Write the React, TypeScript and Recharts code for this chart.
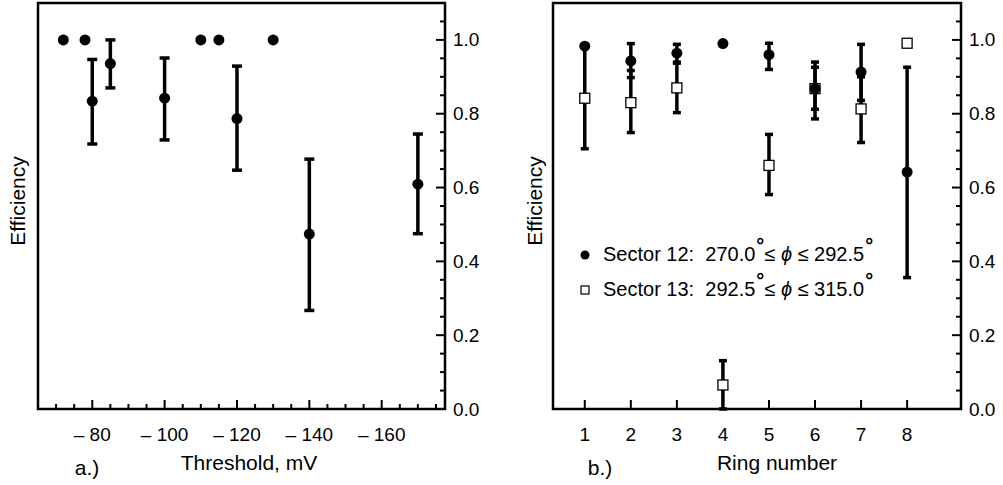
import React from 'react';
import {
  ScatterChart,
  Scatter,
  XAxis,
  YAxis,
  ErrorBar,
  ReferenceArea
} from 'recharts';

// panel a.) efficiency vs threshold
const thresholds = [-72, -78, -80, -85, -100, -110, -115, -120, -130, -140, -170];
const effA = [1.0, 1.0, 0.834, 0.936, 0.842, 1.0, 1.0, 0.787, 1.0, 0.474, 0.609];
const lowA = [null, null, 0.718, 0.87, 0.729, null, null, 0.647, null, 0.267, 0.475];
const highA = [null, null, 0.947, 1.0, 0.951, null, null, 0.929, null, 0.677, 0.745];

// panel b.) efficiency vs ring number
const rings = [1, 2, 3, 4, 5, 6, 7, 8];
const sector12 = [0.983, 0.943, 0.964, 0.99, 0.96, 0.868, 0.913, 0.642];
const s12Low = [null, 0.898, 0.94, null, 0.92, 0.786, 0.836, 0.356];
const s12High = [null, 0.99, 0.988, null, 0.991, 0.94, 0.988, 0.926];
const sector13 = [0.842, 0.83, 0.87, 0.065, 0.66, 0.868, 0.813, 0.991];
const s13Low = [0.705, 0.749, 0.803, 0, 0.581, 0.812, 0.722, null];
const s13High = [0.983, 0.917, 0.937, 0.131, 0.744, 0.926, 0.9, null];

// ticks
const thrTicks = [-70, -75, -80, -85, -90, -95, -100, -105, -110, -115, -120, -125, -130, -135, -140, -145, -150, -155, -160, -165, -170, -175];
const thrMajor = [-80, -100, -120, -140, -160];
const effTicks = [0, 0.05, 0.1, 0.15, 0.2, 0.25, 0.3, 0.35, 0.4, 0.45, 0.5, 0.55, 0.6, 0.65, 0.7, 0.75, 0.8, 0.85, 0.9, 0.95, 1.0, 1.05];
const effMajor = ['0.0', '0.2', '0.4', '0.6', '0.8', '1.0'];

const FONT = '"Liberation Sans", Arial, sans-serif';

const withErr = (xs: number[], ys: number[], lo: (number | null)[], hi: (number | null)[]) =>
  xs.map((x, i) => ({
    x,
    y: ys[i],
    err: lo[i] == null ? null : [ys[i] - (lo[i] as number), (hi[i] as number) - ys[i]]
  }));

const dataA = withErr(thresholds, effA, lowA, highA);
const data12 = withErr(rings, sector12, s12Low, s12High);
const data13 = withErr(rings, sector13, s13Low, s13High);

const BottomTick = (props: any) => {
  const { x, y, payload, isMajor, fmt } = props;
  const major = isMajor(payload.value);
  return (
    <g>
      <line x1={x} x2={x} y1={y} y2={y - (major ? 9 : 5)} stroke="#000" strokeWidth={2} />
      {major && (
        <text x={x} y={y + 25} textAnchor="middle" dominantBaseline="central" fontSize={19} fontFamily={FONT} fill="#000">
          {fmt(payload.value)}
        </text>
      )}
    </g>
  );
};

const RightTick = (props: any) => {
  const { x, y, payload } = props;
  const label = payload.value.toFixed(1);
  const major = effMajor.includes(label) && Math.abs(payload.value * 5 - Math.round(payload.value * 5)) < 1e-6;
  return (
    <g>
      <line x1={x} x2={x - (major ? 9 : 5)} y1={y} y2={y} stroke="#000" strokeWidth={2} />
      {major && (
        <text x={x + 8} y={y} textAnchor="start" dominantBaseline="central" fontSize={19} fontFamily={FONT} fill="#000">
          {label}
        </text>
      )}
    </g>
  );
};

const Dot = (p: any) => <circle cx={p.cx} cy={p.cy} r={5.5} fill="#000" />;
const Square = (p: any) => (
  <rect x={p.cx - 5} y={p.cy - 5} width={10} height={10} fill="#fff" stroke="#000" strokeWidth={1.3} />
);

const Deg = () => (
  <span style={{ position: 'relative', top: '-0.45em', fontSize: 20, fontWeight: 'bold', marginLeft: 1 }}>°</span>
);

const SectorLegend = () => (
  <div style={{ fontFamily: FONT, fontSize: 20, color: '#000', lineHeight: '35px' }}>
    <div style={{ display: 'flex', alignItems: 'center' }}>
      <svg width={25} height={14}>
        <circle cx={7} cy={7} r={4.5} fill="#000" />
      </svg>
      <span>
        Sector 12:&nbsp; 270.0<Deg />≤ <i>ϕ</i> ≤ 292.5<Deg />
      </span>
    </div>
    <div style={{ display: 'flex', alignItems: 'center' }}>
      <svg width={25} height={14}>
        <rect x={3} y={3} width={8} height={8} fill="#fff" stroke="#000" strokeWidth={1.2} />
      </svg>
      <span>
        Sector 13:&nbsp; 292.5<Deg />≤ <i>ϕ</i> ≤ 315.0<Deg />
      </span>
    </div>
  </div>
);

const textStyle: React.CSSProperties = {
  position: 'absolute',
  fontFamily: FONT,
  fontSize: 21,
  color: '#000',
  whiteSpace: 'nowrap',
  transform: 'translate(-50%, -50%)'
};

export default function App() {
  return (
    <div style={{ position: 'absolute', left: 0, top: 0, width: 1003, height: 485, background: '#fff' }}>
      <div style={{ position: 'absolute', left: 0, top: 0 }}>
        <ScatterChart width={500} height={485} margin={{ top: 3, right: 5, left: 38, bottom: 46 }}>
          <XAxis
            type="number"
            dataKey="x"
            domain={[-177.5, -65]}
            reversed
            allowDataOverflow
            ticks={thrTicks}
            interval={0}
            height={30}
            tickSize={0}
            tickMargin={0}
            axisLine={false}
            tickLine={false}
            tick={(p: any) => (
              <BottomTick {...p} isMajor={(v: number) => thrMajor.includes(v)} fmt={(v: number) => `\u2013 ${Math.abs(v)}`} />
            )}
          />
          <YAxis
            type="number"
            dataKey="y"
            orientation="right"
            domain={[0, 1.1]}
            allowDataOverflow
            ticks={effTicks}
            interval={0}
            width={50}
            tickSize={0}
            tickMargin={0}
            axisLine={false}
            tickLine={false}
            tick={(p: any) => <RightTick {...p} />}
          />
          <ReferenceArea x1={-177.5} x2={-65} y1={0} y2={1.1} fill="none" stroke="#000" strokeWidth={2.5} />
          <Scatter data={dataA} shape={Dot} isAnimationActive={false}>
            <ErrorBar dataKey="err" direction="y" width={5} strokeWidth={3.5} stroke="#000" isAnimationActive={false} />
          </Scatter>
        </ScatterChart>
      </div>

      <div style={{ position: 'absolute', left: 500, top: 0 }}>
        <ScatterChart width={503} height={485} margin={{ top: 3, right: 0, left: 53, bottom: 46 }}>
          <XAxis
            type="number"
            dataKey="x"
            domain={[0.31, 9.17]}
            allowDataOverflow
            ticks={rings}
            interval={0}
            height={30}
            tickSize={0}
            tickMargin={0}
            axisLine={false}
            tickLine={false}
            tick={(p: any) => <BottomTick {...p} isMajor={() => true} fmt={(v: number) => String(v)} />}
          />
          <YAxis
            type="number"
            dataKey="y"
            orientation="right"
            domain={[0, 1.1]}
            allowDataOverflow
            ticks={effTicks}
            interval={0}
            width={42}
            tickSize={0}
            tickMargin={0}
            axisLine={false}
            tickLine={false}
            tick={(p: any) => <RightTick {...p} />}
          />
          <ReferenceArea x1={0.31} x2={9.17} y1={0} y2={1.1} fill="none" stroke="#000" strokeWidth={2.5} />
          <Scatter name="Sector 13" data={data13} shape={Square} isAnimationActive={false}>
            <ErrorBar dataKey="err" direction="y" width={4} strokeWidth={3.5} stroke="#000" isAnimationActive={false} />
          </Scatter>
          <Scatter name="Sector 12" data={data12} shape={Dot} isAnimationActive={false}>
            <ErrorBar dataKey="err" direction="y" width={4} strokeWidth={3.5} stroke="#000" isAnimationActive={false} />
          </Scatter>
        </ScatterChart>
      </div>

      <div style={{ position: 'absolute', left: 578, top: 237 }}>
        <SectorLegend />
      </div>

      <div style={{ ...textStyle, left: 18, top: 201, transform: 'translate(-50%, -50%) rotate(-90deg)' }}>Efficiency</div>
      <div style={{ ...textStyle, left: 535, top: 201, transform: 'translate(-50%, -50%) rotate(-90deg)' }}>Efficiency</div>
      <div style={{ ...textStyle, left: 249, top: 463 }}>Threshold, mV</div>
      <div style={{ ...textStyle, left: 777, top: 463 }}>Ring number</div>
      <div style={{ ...textStyle, left: 87, top: 468 }}>a.)</div>
      <div style={{ ...textStyle, left: 600, top: 468 }}>b.)</div>
    </div>
  );
}
